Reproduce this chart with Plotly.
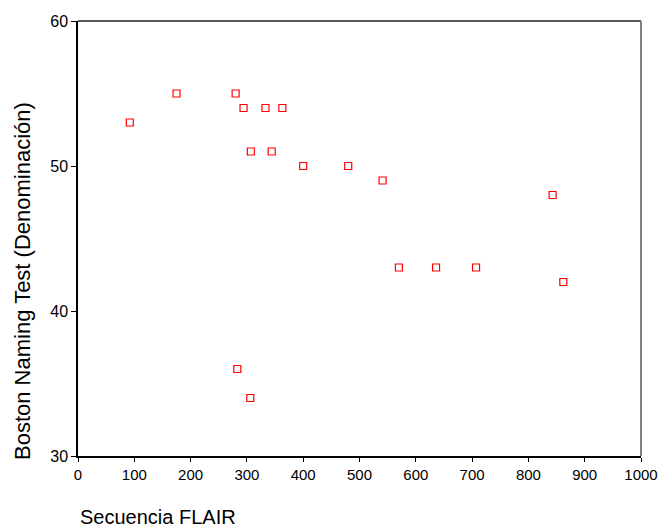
import plotly.graph_objects as go

# Secuencia FLAIR vs. Boston Naming Test scores
flair = [92, 175, 280, 294, 333, 363, 307, 344, 400, 480, 541,
         843, 570, 636, 707, 862, 283, 306]
boston = [53, 55, 55, 54, 54, 54, 51, 51, 50, 50, 49,
          48, 43, 43, 43, 42, 36, 34]

x_ticks = list(range(0, 1001, 100))
y_ticks = [30, 40, 50, 60]

W, H = 662, 531
L, R, T, B = 78, 21, 21, 75
pw, ph = W - L - R, H - T - B

fig = go.Figure(go.Scatter(
    x=flair, y=boston, mode="markers",
    marker=dict(symbol="square-open", size=7, color="#ff0000",
                line=dict(width=1.2, color="#ff0000")),
    hoverinfo="x+y",
))

family = "Liberation Sans, Arial, sans-serif"

fig.update_layout(
    width=W, height=H,
    margin=dict(l=L, r=R, t=T, b=B, autoexpand=False),
    paper_bgcolor="white", plot_bgcolor="white",
    showlegend=False,
    font=dict(family=family, size=15, color="#000"),
    xaxis=dict(range=[0, 1000], tickvals=x_ticks, ticks="outside",
               ticklen=4, tickcolor="#000", showline=True,
               linecolor="#000", linewidth=1.5, showgrid=False,
               zeroline=False, automargin=False,
               tickfont=dict(family=family, size=15, color="#000")),
    yaxis=dict(range=[30, 60], tickvals=y_ticks, ticks="outside",
               ticklen=5, tickcolor="#000", showline=True,
               linecolor="#000", linewidth=1.5, showgrid=False,
               zeroline=False, automargin=False,
               tickfont=dict(family=family, size=16, color="#000")),
    shapes=[
        dict(type="line", xref="paper", yref="paper", x0=0, x1=1, y0=1, y1=1,
             line=dict(color="#222", width=1.5)),
        dict(type="line", xref="paper", yref="paper", x0=1, x1=1, y0=0, y1=1,
             line=dict(color="#808080", width=2)),
    ],
    annotations=[
        dict(text="Secuencia FLAIR", xref="paper", yref="paper",
             x=0, y=-(530 - (T + ph)) / ph, xanchor="left", yanchor="bottom",
             showarrow=False,
             font=dict(family=family, size=20, color="#000")),
        dict(text="Boston Naming Test (Denominación)", xref="paper",
             yref="paper", x=(22 - L) / pw, y=1 - (281 - T) / ph,
             xanchor="center", yanchor="middle", textangle=-90,
             showarrow=False,
             font=dict(family=family, size=22, color="#000")),
    ],
)

fig.write_html("out.html")
